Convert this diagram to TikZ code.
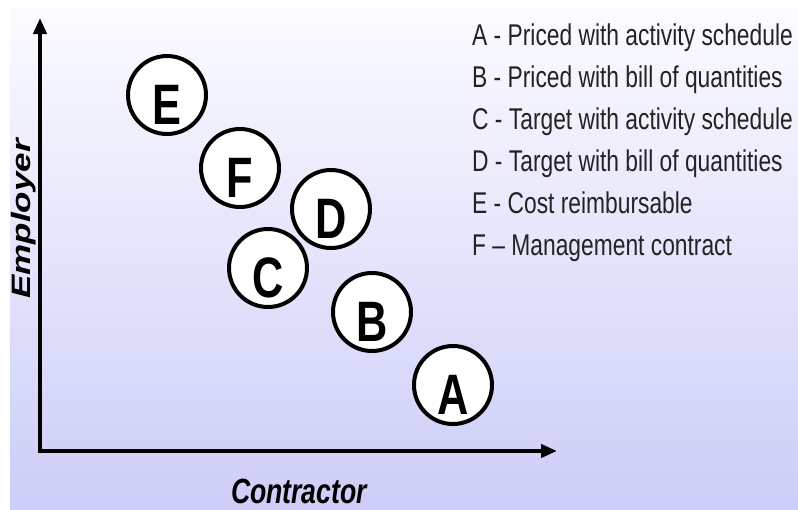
\documentclass[tikz,border=0pt]{standalone}
\usepackage{fontspec}
\setmainfont{Liberation Sans}
\usetikzlibrary{arrows.meta}
\definecolor{bgtop}{RGB}{251,251,255}
\definecolor{bgbottom}{RGB}{205,205,248}
\definecolor{legendtext}{RGB}{35,35,35}
\newcommand\narrow[1]{\scalebox{0.76}[1]{#1}}
\begin{document}
\begin{tikzpicture}[x=1pt,y=-1pt,
    axis/.style = {line width=4pt,line join=miter,{Triangle[length=16pt,width=13pt]}-{Triangle[length=16pt,width=13pt]}},
    choice/.style = {circle,draw,line width=4pt,fill=white,minimum size=78pt,inner sep=0pt,
                     text height=59pt,text depth=0pt,font=\fontsize{57}{57}\selectfont\bfseries},
    entry/.style = {anchor=base west,inner sep=0pt,text=legendtext,font=\fontsize{30}{30}\selectfont},
    axislabel/.style = {inner sep=0pt,font=\fontsize{35}{35}\selectfont\bfseries\itshape}]
    \useasboundingbox (0,0) rectangle (798,509);
    \shade[top color=bgtop,bottom color=bgbottom] (10,8) rectangle (798,509);

    \coordinate (ytop) at (40,18);
    \coordinate (origin) at (40,451);
    \coordinate (xend) at (557,451);
    \draw[axis] (ytop) -- (origin) -- (xend);

    \node[axislabel,rotate=90] (employer) at (24,219) {\scalebox{1}[0.76]{Employer}};
    \node[axislabel] (contractor) at (299,491) {\narrow{Contractor}};

    \node[choice] (E) at (167,95) {\narrow{E}};
    \node[choice] (F) at (240,168) {\narrow{F}};
    \node[choice] (D) at (331,209) {\narrow{D}};
    \node[choice] (C) at (268,268) {\narrow{C}};
    \node[choice] (B) at (372,312) {\narrow{B}};
    \node[choice] (A) at (453,385) {\narrow{A}};

    \foreach \n/\txt [count=\i from 0] in {A/A - Priced with activity schedule,
                                  B/B - Priced with bill of quantities,
                                  C/C - Target with activity schedule,
                                  D/D - Target with bill of quantities,
                                  E/E - Cost reimbursable,
                                  F/F -- Management contract}
        \node[entry] (key-\n) at (472,45+42*\i) {\narrow{\txt}};
\end{tikzpicture}
\end{document}
